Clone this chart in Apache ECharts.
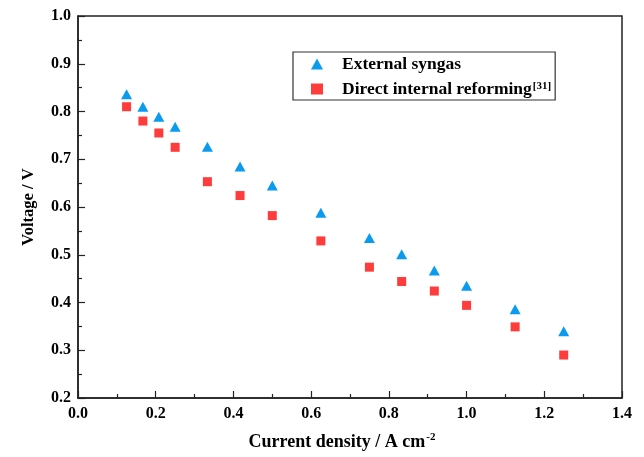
<!DOCTYPE html>
<html>
<head>
<meta charset="utf-8">
<script src="https://cdn.jsdelivr.net/npm/echarts@6/dist/echarts.min.js"></script>
<style>
html,body{margin:0;padding:0;background:#fff;}
#chart{width:644px;height:457px;}
</style>
</head>
<body>
<div id="chart"></div>
<script>
var currentDensity = [0.125, 0.167, 0.208, 0.25, 0.333, 0.417, 0.5, 0.625, 0.75, 0.833, 0.917, 1.0, 1.125, 1.25];
var externalSyngas = [0.836, 0.810, 0.789, 0.768, 0.726, 0.685, 0.645, 0.588, 0.535, 0.501, 0.467, 0.435, 0.386, 0.340];
var directInternal = [0.810, 0.780, 0.755, 0.725, 0.653, 0.624, 0.582, 0.529, 0.474, 0.444, 0.424, 0.394, 0.349, 0.290];
var seriesNames = ['External syngas', 'Direct internal reforming'];
var xTicks = {min: 0, max: 1.4, interval: 0.2};
var yTicks = {min: 0.2, max: 1.0, interval: 0.1};

function pairs(xs, ys) { return xs.map(function (x, i) { return [x, ys[i]]; }); }

var font = '"Liberation Serif", "Times New Roman", serif';
var chart = echarts.init(document.getElementById('chart'));
chart.setOption({
  backgroundColor: '#fff',
  animation: false,
  grid: {left: 78, right: 22, top: 16, bottom: 59, containLabel: false, outerBoundsMode: 'none',
    show: true, borderColor: '#222', borderWidth: 1.5, backgroundColor: 'transparent'},
  legend: {
    left: 293, top: 52, orient: 'vertical',
    borderColor: '#333', borderWidth: 1.2,
    padding: [3, 4, 2, 18],
    itemGap: 7,
    itemWidth: 12, itemHeight: 11,
    data: [{name: seriesNames[0], icon: 'triangle'}, {name: seriesNames[1], icon: 'rect'}],
    formatter: function (n) {
      if (n === seriesNames[1]) return '{a|' + n + '}{sup|[31]}';
      return '{a|' + n + '}';
    },
    textStyle: {
      fontFamily: font, fontWeight: 'bold', fontSize: 17.5, color: '#000', lineHeight: 16,
      padding: [0, 0, 0, 14],
      rich: {
        a: {fontFamily: font, fontWeight: 'bold', fontSize: 17.5, color: '#000', lineHeight: 16},
        sup: {fontFamily: font, fontWeight: 'bold', fontSize: 11, color: '#000', lineHeight: 11, verticalAlign: 'top', padding: [0, 0, 5, 1]}
      }
    }
  },
  xAxis: {
    type: 'value', min: xTicks.min, max: xTicks.max, interval: xTicks.interval,
    name: '{a|Current density / A cm}{sup|-2}', nameLocation: 'middle', nameGap: 34,
    nameTextStyle: {
      fontFamily: font, fontWeight: 'bold', fontSize: 18, color: '#000',
      padding: [0, 16, 0, 0],
      rich: {
        a: {fontFamily: font, fontWeight: 'bold', fontSize: 18, color: '#000', lineHeight: 20},
        sup: {fontFamily: font, fontWeight: 'bold', fontSize: 11, color: '#000', lineHeight: 11, verticalAlign: 'top', padding: [0, 0, 9, 1]}
      }
    },
    axisLine: {lineStyle: {color: '#222', width: 1.5}},
    axisTick: {inside: true, length: 7, lineStyle: {color: '#222', width: 1.2}},
    minorTick: {show: true, splitNumber: 2, length: 4, lineStyle: {color: '#222', width: 1.2}},
    splitLine: {show: false},
    axisLabel: {fontFamily: font, fontWeight: 'bold', fontSize: 16, color: '#000', margin: 8,
      formatter: function (v) { return v.toFixed(1); }}
  },
  yAxis: {
    type: 'value', min: yTicks.min, max: yTicks.max, interval: yTicks.interval,
    name: 'Voltage / V', nameLocation: 'middle', nameGap: 41,
    nameTextStyle: {fontFamily: font, fontWeight: 'bold', fontSize: 16.5, color: '#000'},
    axisLine: {lineStyle: {color: '#222', width: 1.5}},
    axisTick: {inside: true, length: 7, lineStyle: {color: '#222', width: 1.2}},
    minorTick: {show: true, splitNumber: 2, length: 4, lineStyle: {color: '#222', width: 1.2}},
    splitLine: {show: false},
    axisLabel: {fontFamily: font, fontWeight: 'bold', fontSize: 16, color: '#000', margin: 7,
      formatter: function (v) { return v.toFixed(1); }}
  },
  series: [
    {name: seriesNames[0], type: 'scatter', symbol: 'triangle', symbolSize: [11, 10],
      itemStyle: {color: '#0a9bef', opacity: 1}, data: pairs(currentDensity, externalSyngas)},
    {name: seriesNames[1], type: 'scatter', symbol: 'rect', symbolSize: 9,
      itemStyle: {color: '#ff3c3c', opacity: 1}, data: pairs(currentDensity, directInternal)}
  ]
});
</script>
</body>
</html>
